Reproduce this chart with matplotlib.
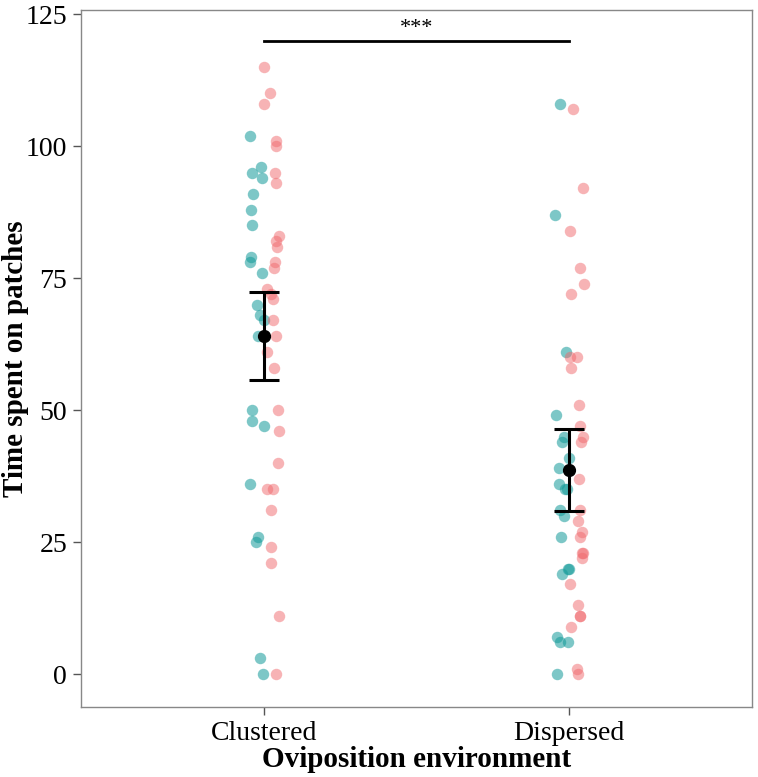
import numpy as np
import matplotlib
matplotlib.use("Agg")
import matplotlib.pyplot as plt

plt.rcParams['font.family'] = ['Liberation Serif', 'DejaVu Serif']

# categories on the x axis
environments = ['Clustered', 'Dispersed']

# values (time spent on patches), by group colour
clustered_pink = [115, 110, 108, 101, 100, 95, 93, 83, 82, 81, 78, 77, 73, 72, 71,
                  67, 64, 61, 58, 50, 46, 40, 35, 35, 31, 24, 21, 11, 0]
clustered_teal = [102, 96, 95, 94, 91, 88, 85, 79, 78, 76, 70, 68, 67, 64, 50, 48,
                  47, 36, 26, 25, 3, 0]
dispersed_pink = [107, 92, 84, 77, 74, 72, 60, 60, 58, 51, 47, 45, 44, 37, 31, 29,
                  27, 26, 23, 23, 22, 17, 13, 11, 11, 9, 1, 0]
dispersed_teal = [108, 87, 61, 49, 45, 44, 41, 39, 36, 35, 35, 31, 30, 26, 20, 20,
                  19, 7, 6, 6, 0]

# horizontal jitter of each point (category units)
clustered_pink_jit = [0.00, 0.02, 0.00, 0.04, 0.04, 0.036, 0.039, 0.049, 0.038, 0.042,
                      0.036, 0.032, 0.010, 0.022, 0.029, 0.029, 0.038, 0.009, 0.032,
                      0.047, 0.049, 0.045, 0.010, 0.029, 0.024, 0.022, 0.023, 0.049, 0.038]
clustered_teal_jit = [-0.046, -0.010, -0.039, -0.007, -0.036, -0.042, -0.040, -0.043,
                      -0.046, -0.007, -0.023, -0.014, 0.000, -0.020, -0.038, -0.041,
                      -0.001, -0.046, -0.019, -0.027, -0.014, -0.002]
dispersed_pink_jit = [0.013, 0.046, 0.004, 0.035, 0.048, 0.007, 0.026, 0.002, 0.007,
                      0.034, 0.037, 0.046, 0.039, 0.033, 0.037, 0.029, 0.042, 0.037,
                      0.046, 0.042, 0.042, 0.004, 0.029, 0.035, 0.036, 0.007, 0.026, 0.028]
dispersed_teal_jit = [-0.028, -0.045, -0.009, -0.043, -0.017, -0.023, -0.001, -0.034,
                      -0.034, -0.012, -0.007, -0.028, -0.015, -0.026, -0.003, 0.000,
                      -0.023, -0.039, -0.030, -0.003, -0.039]

# significance annotation
sig_label = '***'
sig_height = 120

teal = '#139a99'
pink = '#f0686c'

fig = plt.figure(figsize=(7.58, 7.77), dpi=100)
ax = fig.add_axes([0.107, 0.090, 0.885, 0.897])

groups = [(clustered_pink, clustered_pink_jit, clustered_teal, clustered_teal_jit),
          (dispersed_pink, dispersed_pink_jit, dispersed_teal, dispersed_teal_jit)]

for i, (pk, pkj, tl, tlj) in enumerate(groups):
    ax.scatter(i + np.array(tlj), tl, s=68, color=teal, alpha=0.55, linewidths=0, zorder=2)
    ax.scatter(i + np.array(pkj), pk, s=68, color=pink, alpha=0.5, linewidths=0, zorder=2)
    allv = np.array(pk + tl, dtype=float)
    m = allv.mean()
    ci = 1.96 * allv.std(ddof=1) / np.sqrt(len(allv))
    ax.errorbar(i, m, yerr=ci, fmt='o', color='black', markersize=8.5,
                elinewidth=2.2, capsize=11, capthick=2.2, zorder=3)

# significance bar
ax.plot([0, 1], [sig_height, sig_height], color='black', lw=2)
ax.text(0.5, sig_height + 0.5, sig_label, ha='center', va='bottom', fontsize=16)

ax.set_xlim(-0.6, 1.6)
ax.set_ylim(-6.25, 125.8)
ax.set_xticks([0, 1])
ax.set_xticklabels(environments)
ax.set_yticks([0, 25, 50, 75, 100, 125])

ax.tick_params(axis='both', labelsize=20, length=6, width=1, color='#555555', pad=4)
for sp in ax.spines.values():
    sp.set_color('#888888')
    sp.set_linewidth(1)

ax.set_xlabel('Oviposition environment', fontsize=21, fontweight='bold', labelpad=0)
ax.set_ylabel('Time spent on patches', fontsize=21, fontweight='bold')
ax.yaxis.set_label_coords(-0.077, 0.5)

fig.savefig('out.png', dpi=100)
